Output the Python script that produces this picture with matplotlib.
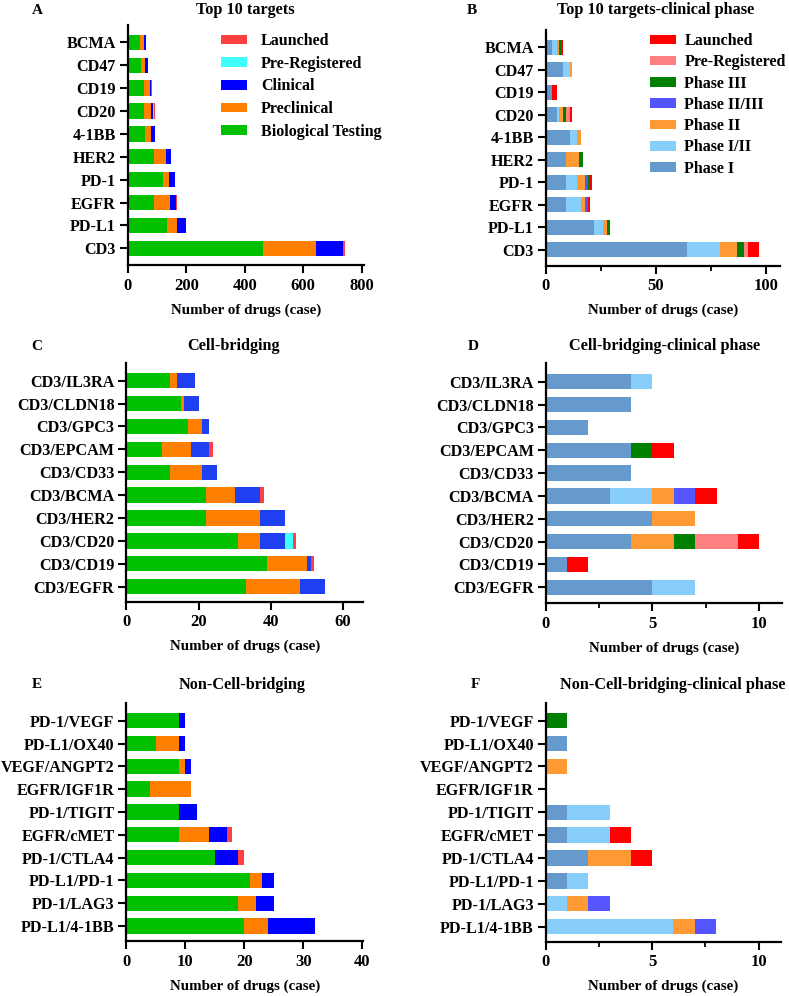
import matplotlib
matplotlib.use("Agg")
import matplotlib.pyplot as plt
import numpy as np
from matplotlib.patches import Patch

plt.rcParams['font.family'] = ['Liberation Serif', 'DejaVu Serif']
plt.rcParams['font.weight'] = 'bold'

W, H = 789, 996

# ---------------- data (listed bottom -> top) ----------------
A_targets = ["CD3", "PD-L1", "EGFR", "PD-1", "HER2", "4-1BB", "CD20", "CD19", "CD47", "BCMA"]
A_bio = [462, 135, 91, 119, 90, 60, 55, 57, 45, 42]
A_precl = [182, 35, 54, 22, 41, 20, 25, 19, 13, 13]
A_clin = [91, 31, 21, 21, 17, 15, 7, 4, 12, 7]
A_prereg = [1, 0, 0, 0, 0, 0, 2, 0, 0, 0]
A_launch = [6, 0, 1, 0, 0, 0, 3, 2, 0, 0]

B_I = [64, 22, 9, 9, 9, 11, 5, 3, 8, 3]
B_I_II = [15, 4, 7, 5, 0, 3, 1, 0, 3, 2]
B_II = [8, 2, 2, 4, 6, 2, 2, 0, 1, 1]
B_II_III = [0, 0, 1, 1, 0, 0, 0, 0, 0, 0]
B_III = [3, 1, 0, 1, 2, 0, 1, 0, 0, 1]
B_prereg = [2, 0, 0, 0, 0, 0, 2, 0, 0, 0]
B_launch = [5, 0, 1, 1, 0, 0, 1, 2, 0, 1]

C_pairs = ["CD3/EGFR", "CD3/CD19", "CD3/CD20", "CD3/HER2", "CD3/BCMA", "CD3/CD33",
           "CD3/EPCAM", "CD3/GPC3", "CD3/CLDN18", "CD3/IL3RA"]
C_bio = [33, 39, 31, 22, 22, 12, 10, 17, 15, 12]
C_precl = [15, 11, 6, 15, 8, 9, 8, 4, 1, 2]
C_clin = [7, 1, 7, 7, 7, 4, 5, 2, 4, 5]
C_prereg = [0, 0, 2, 0, 0, 0, 0, 0, 0, 0]
C_launch = [0, 1, 1, 0, 1, 0, 1, 0, 0, 0]

D_I = [5, 1, 4, 5, 3, 4, 4, 2, 4, 4]
D_I_II = [2, 0, 0, 0, 2, 0, 0, 0, 0, 1]
D_II = [0, 0, 2, 2, 1, 0, 0, 0, 0, 0]
D_II_III = [0, 0, 0, 0, 1, 0, 0, 0, 0, 0]
D_III = [0, 0, 1, 0, 0, 0, 1, 0, 0, 0]
D_prereg = [0, 0, 2, 0, 0, 0, 0, 0, 0, 0]
D_launch = [0, 1, 1, 0, 1, 0, 1, 0, 0, 0]

E_pairs = ["PD-L1/4-1BB", "PD-1/LAG3", "PD-L1/PD-1", "PD-1/CTLA4", "EGFR/cMET",
           "PD-1/TIGIT", "EGFR/IGF1R", "VEGF/ANGPT2", "PD-L1/OX40", "PD-1/VEGF"]
E_bio = [20, 19, 21, 15, 9, 9, 4, 9, 5, 9]
E_precl = [4, 3, 2, 0, 5, 0, 7, 1, 4, 0]
E_clin = [8, 3, 2, 4, 3, 3, 0, 1, 1, 1]
E_prereg = [0, 0, 0, 0, 0, 0, 0, 0, 0, 0]
E_launch = [0, 0, 0, 1, 1, 0, 0, 0, 0, 0]

F_I = [0, 0, 1, 2, 1, 1, 0, 0, 1, 0]
F_I_II = [6, 1, 1, 0, 2, 2, 0, 0, 0, 0]
F_II = [1, 1, 0, 2, 0, 0, 0, 1, 0, 0]
F_II_III = [1, 1, 0, 0, 0, 0, 0, 0, 0, 0]
F_III = [0, 0, 0, 0, 0, 0, 0, 0, 0, 1]
F_prereg = [0, 0, 0, 0, 0, 0, 0, 0, 0, 0]
F_launch = [0, 0, 0, 1, 1, 0, 0, 0, 0, 0]

status_labels = ["Biological Testing", "Preclinical", "Clinical", "Pre-Registered", "Launched"]
phase_labels = ["Phase I", "Phase I/II", "Phase II", "Phase II/III", "Phase III", "Pre-Registered", "Launched"]

status_colors = ["#00C000", "#FF8000", "#0000FF", "#40FFFF", "#FF4040"]
status_colors_C = ["#00C000", "#FF8000", "#1E40F0", "#40FFFF", "#FF4040"]
phase_colors = ["#6699CC", "#87CEFA", "#FF9933", "#5555FF", "#008000", "#FF8080", "#FF0000"]

YTICK_FS = 11.6
XTICK_FS = 12
TITLE_FS = 11.7
XLAB_FS = 10.8

fig = plt.figure(figsize=(W / 100, H / 100), dpi=100)


def make_ax(x0, x1, ytop, ybot, c_top, c_bot):
    ax = fig.add_axes([x0 / W, 1 - ybot / H, (x1 - x0) / W, (ybot - ytop) / H])
    upp = 9.0 / (c_bot - c_top)
    ax.set_ylim(-(ybot - c_bot) * upp, 9 + (c_top - ytop) * upp)
    return ax, upp


def draw(ax, cats, series, colors, labels, bar_h):
    y = np.arange(len(cats))
    left = np.zeros(len(cats))
    handles = []
    for vals, col, lab in zip(series, colors, labels):
        v = np.array(vals, dtype=float)
        ax.barh(y, v, left=left, height=bar_h, color=col, edgecolor='none', label=lab)
        left += v
        handles.append(Patch(facecolor=col, edgecolor='none', label=lab))
    ax.set_yticks(y)
    ax.set_yticklabels(cats, fontsize=YTICK_FS, fontweight='bold')
    for s in ['top', 'right']:
        ax.spines[s].set_visible(False)
    for s in ['left', 'bottom']:
        ax.spines[s].set_linewidth(1.6)
    ax.tick_params(axis='both', which='major', direction='out', length=5.5, width=1.5)
    ax.tick_params(axis='y', pad=3)
    ax.tick_params(axis='x', labelsize=XTICK_FS)
    ax.tick_params(axis='x', which='minor', direction='out', length=3.5, width=1.3)
    ax.set_xlabel("Number of drugs (case)", fontsize=XLAB_FS, fontweight='bold', labelpad=7)
    return handles


def bold_xticks(ax):
    for t in ax.get_xticklabels():
        t.set_fontweight('bold')


def title(x, y, text, letter, lx):
    fig.text(x / W, 1 - y / H, text, ha='center', va='center', fontsize=TITLE_FS, fontweight='bold')
    fig.text(lx / W, 1 - y / H, letter, ha='center', va='center', fontsize=11, fontweight='bold')


# ---------------- A ----------------
axA, upp = make_ax(127.7, 364, 25, 265, 42.3, 248.3)
hA = draw(axA, A_targets, [A_bio, A_precl, A_clin, A_prereg, A_launch], status_colors, status_labels, 15.3 * upp)
axA.set_xlim(0, 808)
axA.set_xticks([0, 200, 400, 600, 800])
bold_xticks(axA)
title(245, 10, "Top 10 targets", "A", 37)
fig.legend(handles=hA[::-1], loc='upper left', bbox_to_anchor=(221 / W, 1 - 33 / H),
           frameon=False, fontsize=11.5, handlelength=1.6, handleheight=0.55,
           handletextpad=0.9, labelspacing=0.42, borderpad=0, borderaxespad=0)

# ---------------- B ----------------
axB, upp = make_ax(545.7, 780, 30, 265.7, 47.3, 249.7)
hB = draw(axB, A_targets, [B_I, B_I_II, B_II, B_II_III, B_III, B_prereg, B_launch], phase_colors, phase_labels, 15 * upp)
axB.set_xlim(0, 106.5)
axB.set_xticks([0, 50, 100])
axB.set_xticks([25, 75], minor=True)
bold_xticks(axB)
title(656, 10, "Top 10 targets-clinical phase", "B", 472)
fig.legend(handles=hB[::-1], loc='upper left', bbox_to_anchor=(650 / W, 1 - 33 / H),
           frameon=False, fontsize=11.5, handlelength=1.6, handleheight=0.55,
           handletextpad=0.55, labelspacing=0.33, borderpad=0, borderaxespad=0)

# ---------------- C ----------------
axC, upp = make_ax(126.3, 363, 363, 601.7, 380.7, 586.7)
draw(axC, C_pairs, [C_bio, C_precl, C_clin, C_prereg, C_launch], status_colors_C, status_labels, 15.3 * upp)
axC.set_xlim(0, 65.5)
axC.set_xticks([0, 20, 40, 60])
bold_xticks(axC)
title(234, 346, "Cell-bridging", "C", 37)

# ---------------- D ----------------
axD, upp = make_ax(545.7, 781.7, 363, 603.3, 381.7, 587.3)
draw(axD, C_pairs, [D_I, D_I_II, D_II, D_II_III, D_III, D_prereg, D_launch], phase_colors, phase_labels, 15.3 * upp)
axD.set_xlim(0, 11.05)
axD.set_xticks([0, 5, 10])
axD.set_xticks([2.5, 7.5], minor=True)
bold_xticks(axD)
title(665, 346, "Cell-bridging-clinical phase", "D", 473)

# ---------------- E ----------------
axE, upp = make_ax(126.3, 363.3, 702.7, 941, 720.7, 926)
draw(axE, E_pairs, [E_bio, E_precl, E_clin, E_prereg, E_launch], status_colors, status_labels, 15.3 * upp)
axE.set_xlim(0, 40.2)
axE.set_xticks([0, 10, 20, 30, 40])
bold_xticks(axE)
title(242, 685, "Non-Cell-bridging", "E", 37)

# ---------------- F ----------------
axF, upp = make_ax(545.7, 781, 702.7, 941.7, 720.7, 926.7)
draw(axF, E_pairs, [F_I, F_I_II, F_II, F_II_III, F_III, F_prereg, F_launch], phase_colors, phase_labels, 15.3 * upp)
axF.set_xlim(0, 11.05)
axF.set_xticks([0, 5, 10])
axF.set_xticks([2.5, 7.5], minor=True)
bold_xticks(axF)
title(673, 685, "Non-Cell-bridging-clinical phase", "F", 475)

fig.savefig("out.png", dpi=100)
